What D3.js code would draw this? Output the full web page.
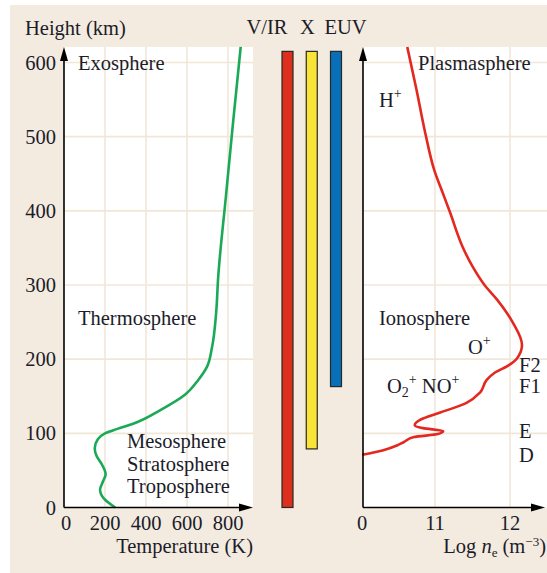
<!DOCTYPE html>
<html>
<head>
<meta charset="utf-8">
<script src="https://cdn.jsdelivr.net/npm/d3@7"></script>
<style>
  body { margin: 0; background: #fff; }
  text { font-family: "Liberation Serif", "Times New Roman", serif; fill: #1c1c2a; font-size: 20.5px; }
</style>
</head>
<body>
<svg id="chart" width="547" height="573"></svg>
<script>
// temperature profile: [temperature K, height km]
const tempProfile = [
  [250, 0], [195, 12], [176, 24], [190, 35], [203, 45], [185, 58], [158, 70],
  [150, 80], [165, 92], [200, 100], [260, 106], [356, 115], [468, 131],
  [590, 152], [655, 172], [698, 190], [722, 216], [742, 262], [752, 310],
  [790, 420], [825, 520], [862, 621]
];
// electron density profile: [log ne, height km]
const neProfile = [
  [10.03, 71], [10.3, 77], [10.5, 84], [10.58, 88], [10.72, 95], [11.04, 99],
  [11.11, 103], [10.84, 107], [10.73, 111], [10.8, 118], [11.07, 128],
  [11.42, 141], [11.6, 155], [11.69, 172], [11.8, 182], [11.97, 191],
  [12.1, 202], [12.16, 219], [12.04, 249], [11.83, 280], [11.66, 300],
  [11.5, 325], [11.37, 351], [11.2, 398], [11.1, 425], [10.99, 455],
  [10.87, 505], [10.75, 565], [10.63, 621]
];
const bandNames = ['V/IR', 'X', 'EUV'];
const bandBottoms = [0, 79, 163];
const bandTop = 615;
const bandColors = ['#dc2f1e', '#f8e436', '#0870b8'];
const heightTicks = [0, 100, 200, 300, 400, 500, 600];
const tempTicks = [0, 200, 400, 600, 800];
const neTicks = [11, 12];

const svg = d3.select('#chart');
const W = 547, H = 573;
const bg = '#f3ebdf', grid = '#f1e7d8';

svg.append('rect').attr('x', 10).attr('y', 5).attr('width', W - 10).attr('height', H - 5).attr('fill', bg);

const y = d3.scaleLinear().domain([0, 600]).range([507.5, 62.5]);
const xT = d3.scaleLinear().domain([0, 800]).range([64, 228]);
const xN = d3.scaleLinear().domain([11, 12]).range([435, 510]);
const xBand = d3.scalePoint().domain(bandNames).range([287.5, 336]);

const yTop = y(621), yBase = y(0);
const leftEnd = 253, rightStart = 363;

function panel(x0, x1) {
  svg.append('rect').attr('x', x0).attr('y', yTop).attr('width', x1 - x0).attr('height', yBase - yTop).attr('fill', '#fff');
}
panel(xT(0), leftEnd);
panel(rightStart, W);

// grid lines
const gl = svg.append('g').attr('stroke', grid).attr('stroke-width', 1.6);
gl.selectAll('.hl').data(heightTicks.slice(1)).join('line').attr('class', 'hl')
  .attr('x1', xT(0)).attr('x2', leftEnd).attr('y1', d => y(d)).attr('y2', d => y(d));
gl.selectAll('.hr').data(heightTicks.slice(1)).join('line').attr('class', 'hr')
  .attr('x1', rightStart).attr('x2', W).attr('y1', d => y(d)).attr('y2', d => y(d));
gl.selectAll('.vl').data(tempTicks.slice(1)).join('line').attr('class', 'vl')
  .attr('x1', d => xT(d)).attr('x2', d => xT(d)).attr('y1', yTop).attr('y2', yBase);
gl.selectAll('.vr').data(neTicks).join('line').attr('class', 'vr')
  .attr('x1', d => xN(d)).attr('x2', d => xN(d)).attr('y1', yTop).attr('y2', yBase);

// curves (height is monotone along each profile)
const line = d3.line().curve(d3.curveMonotoneY);
svg.append('path')
  .attr('d', line(tempProfile.map(d => [xT(d[0]), y(d[1])])))
  .attr('fill', 'none').attr('stroke', '#1aa957').attr('stroke-width', 2.6);
svg.append('path')
  .attr('d', line(neProfile.map(d => [xN(d[0]), y(d[1])])))
  .attr('fill', 'none').attr('stroke', '#e3281f').attr('stroke-width', 2.6);

// absorption bands
svg.selectAll('.band').data(bandNames).join('rect').attr('class', 'band')
  .attr('x', d => xBand(d) - 5.5).attr('width', 11)
  .attr('y', y(bandTop))
  .attr('height', (d, i) => y(bandBottoms[i]) - y(bandTop))
  .attr('fill', (d, i) => bandColors[i])
  .attr('stroke', '#2b2620').attr('stroke-width', 1.2);

const bandLabelX = [267, 307.5, 345.5];
svg.selectAll('.bl').data(bandNames).join('text').attr('class', 'bl')
  .attr('x', (d, i) => bandLabelX[i]).attr('y', 34)
  .attr('text-anchor', 'middle').text(d => d);

// axes with arrowheads
function axisArrows(x0, x1) {
  const g = svg.append('g');
  g.append('line').attr('x1', x0).attr('x2', x0).attr('y1', yBase).attr('y2', yTop + 8)
    .attr('stroke', '#000').attr('stroke-width', 1.6);
  g.append('line').attr('x1', x0).attr('x2', x1 - 8).attr('y1', yBase).attr('y2', yBase)
    .attr('stroke', '#000').attr('stroke-width', 1.6);
  g.append('path').attr('d', `M${x0},${yTop}L${x0 - 4},${yTop + 14}L${x0 + 4},${yTop + 14}Z`).attr('fill', '#000');
  g.append('path').attr('d', `M${x1},${yBase}L${x1 - 14},${yBase - 4}L${x1 - 14},${yBase + 4}Z`).attr('fill', '#000');
}
axisArrows(xT(0), leftEnd);
axisArrows(rightStart, 545);

// tick labels
svg.selectAll('.yt').data(heightTicks).join('text').attr('class', 'yt')
  .attr('x', 56).attr('y', d => y(d) + 7).attr('text-anchor', 'end').text(d => d);
svg.selectAll('.xt').data(tempTicks).join('text').attr('class', 'xt')
  .attr('x', d => xT(d) + (d === 0 ? 2 : 0)).attr('y', 530).attr('text-anchor', 'middle').text(d => d);
svg.append('text').attr('x', 362).attr('y', 530).attr('text-anchor', 'middle').text('0');
svg.selectAll('.nt').data(neTicks).join('text').attr('class', 'nt')
  .attr('x', d => xN(d)).attr('y', 530).attr('text-anchor', 'middle').text(d => d);

// titles
svg.append('text').attr('x', 25).attr('y', 35).text('Height (km)');
svg.append('text').attr('x', 253).attr('y', 553).attr('text-anchor', 'end').text('Temperature (K)');
const ne = svg.append('text').attr('x', 546).attr('y', 553).attr('text-anchor', 'end');
ne.append('tspan').text('Log ');
ne.append('tspan').attr('font-style', 'italic').text('n');
ne.append('tspan').attr('font-size', 13).attr('dy', 4).text('e');
ne.append('tspan').attr('dy', -4).text(' (m');
ne.append('tspan').attr('font-size', 13).attr('dy', -7).text('\u22123');
ne.append('tspan').attr('dy', 7).text(')');

// region labels
const labels = [
  ['Exosphere', 78, 70], ['Thermosphere', 78, 325], ['Mesosphere', 127, 448],
  ['Stratosphere', 127, 471], ['Troposphere', 127, 493],
  ['Plasmasphere', 418, 70], ['Ionosphere', 379, 325],
  ['F2', 519, 372], ['F1', 519, 393], ['E', 519, 438], ['D', 519, 462]
];
svg.selectAll('.lab').data(labels).join('text').attr('class', 'lab')
  .attr('x', d => d[1]).attr('y', d => d[2]).text(d => d[0]);

function ion(x, yy, parts) {
  const t = svg.append('text').attr('x', x).attr('y', yy);
  parts.forEach(p => {
    t.append('tspan').attr('font-size', p[1] || 20.5).attr('dy', p[2] || 0).text(p[0]);
  });
}
ion(379, 107, [['H'], ['+', 14, -9]]);
ion(468, 354, [['O'], ['+', 14, -9]]);
ion(387, 393, [['O'], ['2', 14, 4], ['+', 14, -13], [' NO', 20.5, 9], ['+', 14, -9]]);
</script>
</body>
</html>
